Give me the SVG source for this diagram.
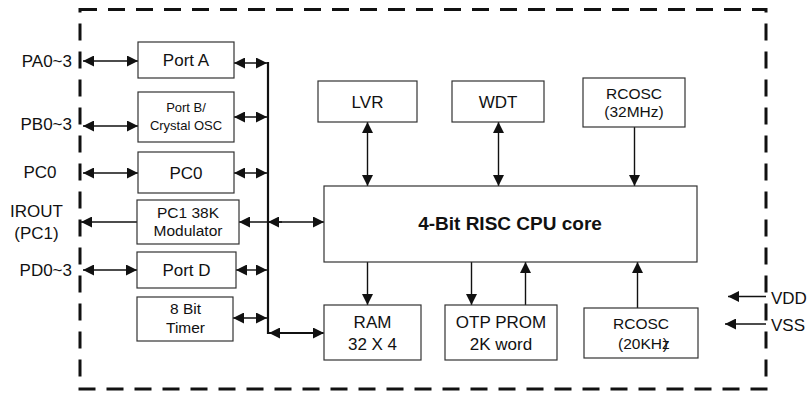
<svg xmlns="http://www.w3.org/2000/svg" width="807" height="393" viewBox="0 0 807 393">
<style>
.box{fill:#fff;stroke:#333;stroke-width:1.2}
.t{font-family:"Liberation Sans",Arial,sans-serif;font-size:17px;fill:#111;text-anchor:middle}
.s{font-size:15.5px}
.xs{font-size:13px}
.b{font-weight:bold;font-size:19px}
.l{text-anchor:end}
.st{text-anchor:start}
.c{fill:none;stroke:#111;stroke-width:1.4}
.bus{fill:none;stroke:#111;stroke-width:2.2}
.both{marker-start:url(#ah);marker-end:url(#ah)}
.end{marker-end:url(#ah)}
</style>
<defs>
<marker id="ah" markerUnits="userSpaceOnUse" markerWidth="11" markerHeight="11" refX="11" refY="5.5" orient="auto-start-reverse">
<path d="M0,0 L11,5.5 L0,11 z" fill="#111"/>
</marker>
</defs>
<rect x="80" y="9.5" width="686" height="379.5" fill="none" stroke="#111" stroke-width="3" stroke-dasharray="17 11"/>

<g id="connectors">
<path class="c both" d="M83,61 H138"/>
<path class="c both" d="M83,126 H138"/>
<path class="c both" d="M83,173 H138"/>
<path class="c end" d="M137,222 H81"/>
<path class="c both" d="M83,270 H137"/>
<path class="bus" d="M268,62 V333 H323"/>
<path class="c both" d="M234,63 H267"/>
<path class="c both" d="M234,117 H267"/>
<path class="c both" d="M234,173 H267"/>
<path class="c both" d="M239,222 H324"/>
<path class="c end" d="M282,222 H268"/>
<path class="c both" d="M236,270 H267"/>
<path class="c both" d="M233,318 H267"/>
<path class="c end" d="M282,333 H269"/>
<path class="c end" d="M300,333 H324"/>
<path class="c both" d="M367.5,122 V186"/>
<path class="c both" d="M498.5,122 V186"/>
<path class="c end" d="M634.5,127 V186"/>
<path class="c end" d="M367.5,262 V305"/>
<path class="c end" d="M471.5,262 V305"/>
<path class="c end" d="M525.5,305 V262"/>
<path class="c end" d="M637.5,308 V262"/>
<path class="c end" d="M766,296.5 H728"/>
<path class="c end" d="M766,324 H725"/>
</g>

<g id="portA"><rect class="box" x="138" y="42" width="96" height="36"/><text class="t" x="186" y="65.5">Port A</text></g>
<g id="portB"><rect class="box" x="138" y="92" width="96" height="50"/><text class="t xs" x="186" y="111.5">Port B/</text><text class="t xs" x="186" y="129.5">Crystal OSC</text></g>
<g id="pc0"><rect class="box" x="138" y="152" width="96" height="41"/><text class="t" x="186" y="178.5">PC0</text></g>
<g id="pc1"><rect class="box" x="137" y="200" width="102" height="44"/><text class="t s" x="188" y="217.5">PC1 38K</text><text class="t s" x="188" y="236">Modulator</text></g>
<g id="portD"><rect class="box" x="137" y="252" width="99" height="36"/><text class="t" x="186.5" y="276">Port D</text></g>
<g id="timer"><rect class="box" x="137" y="297" width="96" height="44"/><text class="t s" x="185.5" y="313.5">8 Bit</text><text class="t s" x="185.5" y="333">Timer</text></g>

<g id="lvr"><rect class="box" x="318" y="81" width="99" height="41"/><text class="t" x="367.5" y="107.5">LVR</text></g>
<g id="wdt"><rect class="box" x="452" y="81" width="92" height="41"/><text class="t" x="498" y="107.5">WDT</text></g>
<g id="rcosc32"><rect class="box" x="583" y="78" width="102" height="49"/><text class="t s" x="634" y="98.5">RCOSC</text><text class="t s" x="634" y="117">(32MHz)</text></g>
<g id="cpu"><rect class="box" x="324" y="186" width="373" height="76"/><text class="t b" x="510" y="229.5">4-Bit RISC CPU core</text></g>
<g id="ram"><rect class="box" x="324" y="305" width="97" height="55"/><text class="t" x="372.5" y="328">RAM</text><text class="t" x="372.5" y="349.5">32 X 4</text></g>
<g id="otp"><rect class="box" x="445" y="305" width="112" height="55"/><text class="t" x="501" y="328">OTP PROM</text><text class="t" x="501" y="349.5">2K word</text></g>
<g id="rcosc20"><rect class="box" x="584" y="308" width="114" height="50"/><text class="t s" x="641" y="328.5">RCOSC</text><text class="t s st" x="618" y="348.5">(20KHz<tspan dx="-7">)</tspan></text></g>

<g id="labels">
<text class="t l" x="72" y="67">PA0~3</text>
<text class="t l" x="72" y="130">PB0~3</text>
<text class="t" x="40" y="178">PC0</text>
<text class="t" x="36.5" y="216.5">IROUT</text>
<text class="t" x="36.5" y="238.5">(PC1)</text>
<text class="t l" x="72" y="276">PD0~3</text>
<text class="t st" x="771" y="303.5">VDD</text>
<text class="t st" x="771" y="330.5">VSS</text>
</g>
</svg>
